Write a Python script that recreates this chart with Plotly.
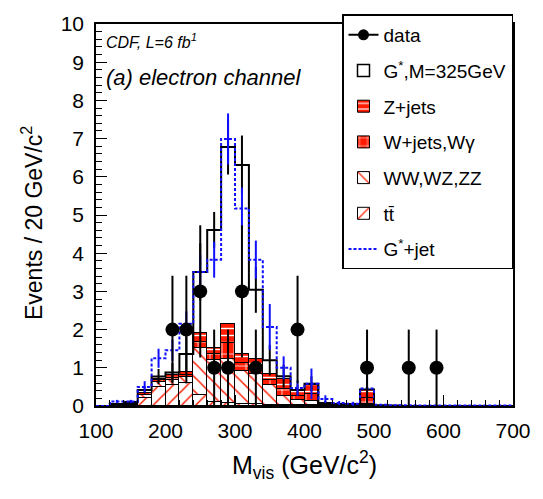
import plotly.graph_objects as go

# ---------------- data ----------------
bin_low = [100, 120, 140, 160, 180, 200, 220, 240, 260, 280, 300, 320, 340, 360, 380,
           400, 420, 440, 460, 480, 500, 520, 540, 560, 580, 600, 620, 640, 660, 680]
bin_width = 20
x_max = 700

tt = [0, 0, 0.03, 0.22, 0.50, 0.55, 0.60, 0.30, 0.10, 0.08, 0.05, 0.05, 0.03, 0.03, 0.03,
      0.03, 0, 0, 0, 0.02, 0, 0, 0, 0, 0, 0, 0, 0, 0, 0]
vv = [0, 0, 0.01, 0.07, 0.12, 0.13, 0.15, 1.22, 1.10, 1.15, 0.87, 0.80, 0.51, 0.22, 0.12,
      0.09, 0.03, 0.02, 0.02, 0.04, 0, 0, 0, 0, 0, 0, 0, 0, 0, 0]
wjets = [0, 0, 0.03, 0.05, 0.05, 0.06, 0.06, 0.16, 0.15, 0.42, 0.21, 0.17, 0.15, 0.20, 0.10,
         0.19, 0.01, 0.01, 0.01, 0.16, 0, 0, 0, 0, 0, 0, 0, 0, 0, 0]
zjets = [0, 0, 0.03, 0.08, 0.05, 0.06, 0.07, 0.22, 0.17, 0.50, 0.22, 0.20, 0.15, 0.25, 0.15,
         0.25, 0.01, 0, 0, 0.20, 0, 0, 0, 0, 0, 0, 0, 0, 0, 0]

gstar = [0, 0.05, 0.10, 0.42, 0.77, 0.88, 1.36, 3.51, 4.61, 6.78, 6.31, 3.04, 1.20, 0.78, 0.42,
         0.58, 0.08, 0.05, 0.05, 0.43, 0.02, 0.01, 0, 0, 0, 0, 0, 0, 0, 0]
gstar_err = [0, 0.03, 0.05, 0.10, 0.20, 0.25, 0.45, 0.75, 0.47, 0.72, 0.77, 0.60, 0.40, 0.30, 0.15,
             0.20, 0.05, 0.03, 0.03, 0.10, 0, 0, 0, 0, 0, 0, 0, 0, 0, 0]

gjet = [0, 0.12, 0.12, 0.50, 1.25, 1.46, 2.15, 3.51, 3.83, 6.99, 5.17, 3.83, 2.07, 1.00, 0.47,
        0.58, 0.18, 0.08, 0.06, 0.46, 0.03, 0.02, 0.02, 0.01, 0.01, 0.01, 0.01, 0.01, 0.01, 0.01]
gjet_err = [0, 0.04, 0.04, 0.15, 0.25, 0.28, 0.33, 0.45, 0.47, 0.67, 0.55, 0.50, 0.60, 0.30, 0.20,
            0.40, 0.10, 0.05, 0.05, 0.35, 0, 0, 0, 0, 0, 0, 0, 0, 0, 0]

data_x = [210, 230, 250, 270, 290, 310, 330, 390, 490, 550, 590]
data_y = [2, 2, 3, 1, 1, 3, 1, 2, 1, 1, 1]
data_err = [1.41, 1.41, 1.73, 1, 1, 1.73, 1, 1.41, 1, 1, 1]

y_ticks = [0, 1, 2, 3, 4, 5, 6, 7, 8, 9, 10]
x_ticks = [100, 200, 300, 400, 500, 600, 700]

# ---------------- figure ----------------
centers = [b + bin_width / 2 for b in bin_low]
step_x = bin_low + [x_max]

FONT = "Liberation Sans, Arial, sans-serif"
RED = "#ff1a00"

fig = go.Figure()


def add_stack(name, vals, shape, fg, bg, rank, size=10, solidity=0.15):
    fig.add_trace(go.Bar(
        x=centers, y=vals, width=bin_width, name=name,
        marker=dict(color=bg, line=dict(color="black", width=1),
                    pattern=dict(shape=shape, fgcolor=fg, bgcolor=bg,
                                 size=size, solidity=solidity, fillmode="replace")),
        legendgroup=name, legendrank=rank, hoverinfo="skip"))


add_stack("tt\u0304", tt, "/", RED, "white", 6)
add_stack("WW,WZ,ZZ", vv, "\\", RED, "white", 5)
add_stack("W+jets,W\u03b3", wjets, "+", "white", RED, 4, size=12, solidity=0.12)
add_stack("Z+jets", zjets, "-", "white", RED, 3, size=7, solidity=0.2)

# G* (black outline histogram)
fig.add_trace(go.Scatter(x=step_x, y=gstar + [gstar[-1]], mode="lines", line_shape="hv",
                         line=dict(color="black", width=2), showlegend=False, hoverinfo="skip"))
fig.add_trace(go.Scatter(x=centers, y=gstar, mode="markers",
                         marker=dict(size=1, color="rgba(0,0,0,0)"),
                         error_y=dict(type="data", array=gstar_err, color="black", thickness=2, width=0),
                         showlegend=False, hoverinfo="skip"))
fig.add_trace(go.Bar(x=[None], y=[None], name="G<sup>*</sup>,M=325GeV",
                     marker=dict(color="white", line=dict(color="black", width=1.5)),
                     legendgroup="gstar", legendrank=2))

# G*+jet (blue dashed histogram)
fig.add_trace(go.Scatter(x=step_x, y=gjet + [gjet[-1]], mode="lines", line_shape="hv",
                         line=dict(color="#1010ff", width=2, dash="3px,2px"),
                         name="G<sup>*</sup>+jet", legendgroup="gjet", legendrank=7, hoverinfo="skip"))
fig.add_trace(go.Scatter(x=centers, y=gjet, mode="markers",
                         marker=dict(size=1, color="rgba(0,0,0,0)"),
                         error_y=dict(type="data", array=gjet_err, color="#1010ff", thickness=2, width=0),
                         showlegend=False, hoverinfo="skip"))

# data
fig.add_trace(go.Scatter(x=data_x, y=data_y, mode="markers",
                         marker=dict(size=14, color="black"),
                         error_y=dict(type="data", array=data_err, color="black", thickness=2, width=0),
                         showlegend=False, hoverinfo="skip"))
fig.add_trace(go.Scatter(x=[None], y=[None], mode="lines+markers", name="data",
                         marker=dict(size=11, color="black"), line=dict(color="black", width=2),
                         legendgroup="data", legendrank=1))

fig.update_layout(
    width=543, height=499,
    margin=dict(l=96, r=27, t=13, b=93),
    paper_bgcolor="white", plot_bgcolor="white",
    barmode="stack", bargap=0,
    font=dict(family=FONT, color="black"),
    showlegend=True,
    legend=dict(x=1, xanchor="right", y=1.025, yanchor="top",
                bgcolor="white", bordercolor="black", borderwidth=1.5,
                font=dict(family=FONT, size=19), tracegroupgap=8,
                traceorder="grouped", itemwidth=30, maxheight=480),
)

fig.update_xaxes(range=[100, 700], tickvals=x_ticks, ticks="inside", ticklen=11, tickwidth=1,
                 tickcolor="black", showline=True, linecolor="black", linewidth=1.5, mirror=True,
                 showgrid=False, zeroline=False, tickfont=dict(size=21), ticklabelstandoff=5,
                 minor=dict(dtick=20, ticks="inside", ticklen=6, tickcolor="black", showgrid=False))
fig.update_yaxes(range=[0, 10], tickvals=y_ticks, ticks="inside", ticklen=11, tickwidth=1,
                 tickcolor="black", showline=True, linecolor="black", linewidth=1.5, mirror=True,
                 showgrid=False, zeroline=False, tickfont=dict(size=21), ticklabelstandoff=6,
                 minor=dict(dtick=0.2, ticks="inside", ticklen=6, tickcolor="black", showgrid=False))

fig.add_annotation(xref="paper", yref="paper", x=0.5, y=-0.155, xanchor="center", yanchor="middle",
                   text="M<sub>vis</sub> (GeV/c<sup>2</sup>)", showarrow=False,
                   font=dict(size=25, family=FONT))
fig.add_annotation(xref="paper", yref="paper", x=-0.152, y=0.478, xanchor="center", yanchor="middle",
                   text="Events / 20 GeV/c<sup>2</sup>", textangle=-90, showarrow=False,
                   font=dict(size=23, family=FONT))
fig.add_annotation(xref="paper", yref="paper", x=0.02, y=0.955, xanchor="left", yanchor="middle",
                   text="<i>CDF, L=6 fb<sup>1</sup></i>", showarrow=False,
                   font=dict(size=16, family=FONT))
fig.add_annotation(xref="paper", yref="paper", x=0.02, y=0.86, xanchor="left", yanchor="middle",
                   text="<i>(a) electron channel</i>", showarrow=False,
                   font=dict(size=22, family=FONT))

fig.write_html("out.html")
